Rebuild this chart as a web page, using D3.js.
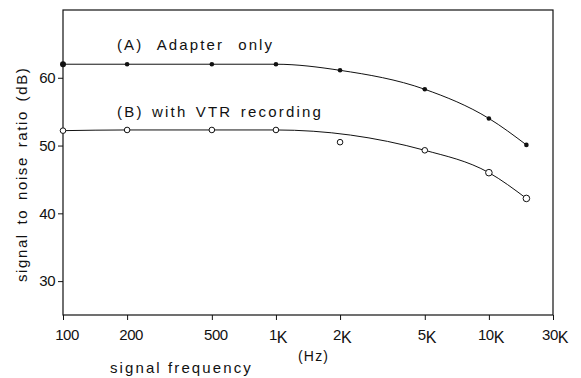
<!DOCTYPE html>
<html lang="en">
<head>
<meta charset="UTF-8">
<style>
  body { margin: 0; background: #fff; }
  svg text { font-family: "Liberation Sans", Arial, sans-serif; fill: #111; }
</style>
<script src="https://cdn.jsdelivr.net/npm/d3@7"></script>
</head>
<body>
<svg id="chart" width="581" height="378"></svg>
<script>
// frequencies (Hz) of the measured points
const freqs = [100, 200, 500, 1000, 2000, 5000, 10000, 15000];
// (A) adapter only, dB
const seriesA = [62, 62, 62, 62, 61.1, 58.3, 54, 50.1];
// (B) with VTR recording, dB
const seriesB = [52.2, 52.3, 52.3, 52.3, 50.5, 49.3, 46, 42.2];
// the faired curve for B passes over the 2K point, so it is left out of the line
const curveSkipB = [2000];

const xTickVals = [100, 200, 500, 1000, 2000, 5000, 10000, 20000];
const xTickNums = ["100", "200", "500", "1", "2", "5", "10", "30"];
const xTickUnits = ["", "", "", "K", "K", "K", "K", "K"];
const yTickVals = [30, 40, 50, 60];

const svg = d3.select("#chart");
const mLeft = 63, mRight = 553, mTop = 10, mBottom = 315;

const x = d3.scaleLog().domain([100, 20000]).range([mLeft, mRight]);
const y = d3.scaleLinear().domain([25, 70]).range([mBottom, mTop]);

// frame
svg.append("rect")
    .attr("x", mLeft).attr("y", mTop)
    .attr("width", mRight - mLeft).attr("height", mBottom - mTop)
    .attr("fill", "none").attr("stroke", "#111").attr("stroke-width", 1.2);

// y axis
const yAxis = svg.append("g").attr("transform", `translate(${mLeft},0)`)
    .call(d3.axisLeft(y).tickValues(yTickVals).tickSize(5).tickPadding(3));
yAxis.select(".domain").remove();
yAxis.selectAll("line").attr("stroke", "#111");
yAxis.selectAll("text")
    .attr("font-size", "15px")
    .attr("letter-spacing", "-0.5px")
    .attr("fill", "#111")
    .style("font-family", "Liberation Sans, sans-serif");

// x axis
const xAxis = svg.append("g").attr("transform", `translate(0,${mBottom})`)
    .call(d3.axisBottom(x).tickValues(xTickVals).tickSize(5).tickFormat(""));
xAxis.select(".domain").remove();
xAxis.selectAll("line").attr("stroke", "#111");

const lab = svg.append("g");
xTickVals.forEach((v, i) => {
  const t = lab.append("text")
      .attr("x", x(v) + (xTickUnits[i] ? 2 : 4))
      .attr("y", mBottom + 25)
      .attr("text-anchor", "middle")
      .attr("font-size", "15px")
      .attr("letter-spacing", "-0.5px");
  t.append("tspan").text(xTickNums[i]);
  if (xTickUnits[i]) t.append("tspan").attr("dy", 3).attr("font-size", "16px").text(xTickUnits[i]);
});

// axis titles
svg.append("text")
    .attr("x", 110).attr("y", 373)
    .attr("font-size", "15px").attr("letter-spacing", "2.1px")
    .text("signal frequency");
svg.append("text")
    .attr("x", 298).attr("y", 361)
    .attr("font-size", "14px").attr("letter-spacing", "1.2px")
    .text("(Hz)");
svg.append("text")
    .attr("transform", "translate(27,163) rotate(-90)")
    .attr("x", 0).attr("y", 0)
    .attr("text-anchor", "start")
    .attr("dx", -119)
    .attr("font-size", "15px").attr("letter-spacing", "1.6px")
    .attr("word-spacing", "3px")
    .text("signal to noise ratio (dB)");

// series labels
svg.append("text")
    .attr("x", 117).attr("y", 50)
    .attr("font-size", "15px").attr("letter-spacing", "2.1px")
    .attr("word-spacing", "8px")
    .text("(A) Adapter only");
svg.append("text")
    .attr("x", 117).attr("y", 117)
    .attr("font-size", "15px").attr("letter-spacing", "2.2px")
    .attr("word-spacing", "2px")
    .text("(B) with VTR recording");

// curves
const line = d3.line()
    .x(d => x(d[0]))
    .y(d => y(d[1]))
    .curve(d3.curveMonotoneX);

const ptsA = freqs.map((f, i) => [f, seriesA[i]]);
const ptsB = freqs.map((f, i) => [f, seriesB[i]]);

svg.append("path").attr("d", line(ptsA))
    .attr("fill", "none").attr("stroke", "#111").attr("stroke-width", 1);
svg.append("path").attr("d", line(ptsB.filter(d => !curveSkipB.includes(d[0]))))
    .attr("fill", "none").attr("stroke", "#111").attr("stroke-width", 1);

// markers
svg.selectAll("circle.a").data(ptsA).enter().append("circle")
    .attr("class", "a")
    .attr("cx", d => x(d[0])).attr("cy", d => y(d[1]))
    .attr("r", d => d[0] === 100 ? 3 : 2.3)
    .attr("fill", "#111");
svg.selectAll("circle.b").data(ptsB).enter().append("circle")
    .attr("class", "b")
    .attr("cx", d => x(d[0])).attr("cy", d => y(d[1]))
    .attr("r", d => d[0] >= 10000 ? 3.3 : 2.8)
    .attr("fill", "#fff").attr("stroke", "#111").attr("stroke-width", 1);
</script>
</body>
</html>
